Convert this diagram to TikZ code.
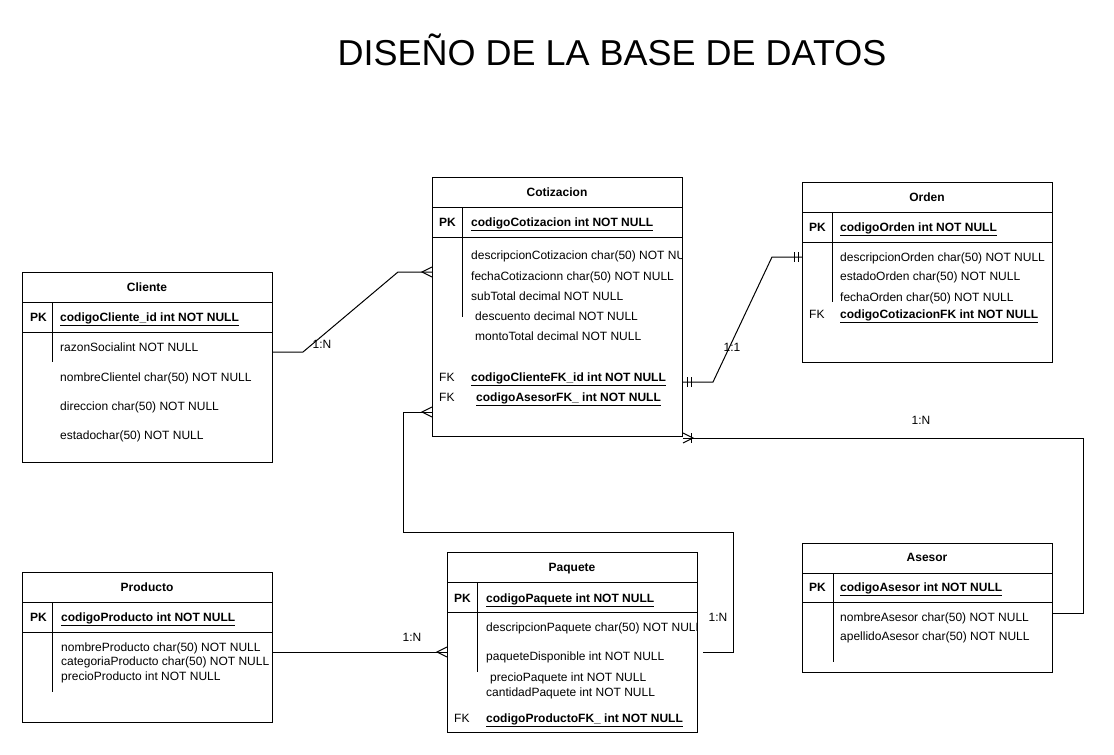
\documentclass[tikz,border=0pt]{standalone}
\usepackage{fontspec}
\setmainfont{Liberation Sans}
\usetikzlibrary{calc}
\newcommand{\fsz}{\fontsize{12pt}{14pt}\selectfont}
\newcommand{\ky}[1]{\underline{\textbf{codigo#1}}}
\begin{document}
\begin{tikzpicture}[x=1pt,y=-1pt,
  tbl/.style={draw, line width=1pt, anchor=north west, inner sep=0pt, minimum width=250pt},
  fld/.style={anchor=mid west, inner sep=0pt, yshift=-1pt, font=\fsz},
  ttl/.style={anchor=mid, inner sep=0pt, yshift=-1pt, font=\fsz\bfseries},
  lbl/.style={anchor=mid, inner sep=0pt, yshift=-1pt, font=\fsz},
  sep/.style={line width=1pt},
  conn/.style={line width=1pt},
  crow/.pic={\draw[line width=1pt] (0,-5) -- (-10,0) -- (0,5);},
  onebar/.pic={\draw[line width=1pt] (-4,-5) -- (-4,5) (-8,-5) -- (-8,5);}
]
\useasboundingbox[fill=white] (0,0) rectangle (1114,755);

\node[anchor=base, inner sep=0pt, font=\fontsize{36pt}{40pt}\selectfont] (title) at (612,65) {DISEÑO DE LA BASE DE DATOS};

% ---------- Cliente
\node[tbl, minimum height=190pt] (cli) at (22,272) {};
\draw[sep] (22,302) -- (272,302) (22,332) -- (272,332) (52,302) -- (52,362);
\node[ttl] (cli-t) at (147,288) {Cliente};
\node[fld, font=\fsz\bfseries] (cli-pk) at (30,318) {PK};
\node[fld] (cli-1) at (60,318) {\ky{Cliente\_id int NOT NULL}};
\node[fld] (cli-2) at (60,348) {razonSocialint NOT NULL};
\node[fld] (cli-3) at (60,378) {nombreClientel char(50) NOT NULL};
\node[fld] (cli-4) at (60,407) {direccion char(50) NOT NULL};
\node[fld] (cli-5) at (60,436) {estadochar(50) NOT NULL};

% ---------- Cotizacion
\node[tbl, minimum height=259pt] (cot) at (432,177) {};
\draw[sep] (432,207) -- (682,207) (432,237) -- (682,237) (462,207) -- (462,317);
\node[ttl] (cot-t) at (557,193) {Cotizacion};
\node[fld, font=\fsz\bfseries] (cot-pk) at (439,223) {PK};
\node[fld] (cot-1) at (471,223) {\ky{Cotizacion int NOT NULL}};
\begin{scope}
\clip (432,177) rectangle (682,436);
\node[fld] (cot-2) at (471,256) {descripcionCotizacion char(50) NOT NULL};
\end{scope}
\node[fld] (cot-3) at (471,277) {fechaCotizacionn char(50) NOT NULL};
\node[fld] (cot-4) at (471,297) {subTotal decimal NOT NULL};
\node[fld] (cot-5) at (475,317) {descuento decimal NOT NULL};
\node[fld] (cot-6) at (475,337) {montoTotal decimal NOT NULL};
\node[fld] (cot-fk1) at (439,378) {FK};
\node[fld] (cot-7) at (471,378) {\ky{ClienteFK\_id int NOT NULL}};
\node[fld] (cot-fk2) at (439,398) {FK};
\node[fld] (cot-8) at (476,398) {\ky{AsesorFK\_ int NOT NULL}};

% ---------- Orden
\node[tbl, minimum height=180pt] (ord) at (802,182) {};
\draw[sep] (802,212) -- (1052,212) (802,242) -- (1052,242) (832,212) -- (832,302);
\node[ttl] (ord-t) at (927,198) {Orden};
\node[fld, font=\fsz\bfseries] (ord-pk) at (809,228) {PK};
\node[fld] (ord-1) at (840,228) {\ky{Orden int NOT NULL}};
\node[fld] (ord-2) at (840,258) {descripcionOrden char(50) NOT NULL};
\node[fld] (ord-3) at (840,277) {estadoOrden char(50) NOT NULL};
\node[fld] (ord-4) at (840,298) {fechaOrden char(50) NOT NULL};
\node[fld] (ord-fk) at (809,315) {FK};
\node[fld] (ord-5) at (840,315) {\ky{CotizacionFK int NOT NULL}};

% ---------- Asesor
\node[tbl, minimum height=129pt] (ase) at (802,543) {};
\draw[sep] (802,573) -- (1052,573) (802,602) -- (1052,602) (833,573) -- (833,662);
\node[ttl] (ase-t) at (927,558) {Asesor};
\node[fld, font=\fsz\bfseries] (ase-pk) at (809,588) {PK};
\node[fld] (ase-1) at (840,588) {\ky{Asesor int NOT NULL}};
\node[fld] (ase-2) at (840,618) {nombreAsesor char(50) NOT NULL};
\node[fld] (ase-3) at (840,637) {apellidoAsesor char(50) NOT NULL};

% ---------- Paquete
\node[tbl, minimum height=180pt] (paq) at (447,552) {};
\draw[sep] (447,582) -- (697,582) (447,612) -- (697,612) (477,582) -- (477,672);
\node[ttl] (paq-t) at (572,568) {Paquete};
\node[fld, font=\fsz\bfseries] (paq-pk) at (454,599) {PK};
\node[fld] (paq-1) at (486,599) {\ky{Paquete int NOT NULL}};
\begin{scope}
\clip (447,552) rectangle (697,732);
\node[fld] (paq-2) at (486,628) {descripcionPaquete char(50) NOT NULL};
\end{scope}
\node[fld] (paq-3) at (486,657) {paqueteDisponible int NOT NULL};
\node[fld] (paq-4) at (490,678) {precioPaquete int NOT NULL};
\node[fld] (paq-5) at (486,693) {cantidadPaquete int NOT NULL};
\node[fld] (paq-fk) at (454,719) {FK};
\node[fld] (paq-6) at (486,719) {\ky{ProductoFK\_ int NOT NULL}};

% ---------- Producto
\node[tbl, minimum height=150pt] (pro) at (22,572) {};
\draw[sep] (22,602) -- (272,602) (22,632) -- (272,632) (52,602) -- (52,692);
\node[ttl] (pro-t) at (147,588) {Producto};
\node[fld, font=\fsz\bfseries] (pro-pk) at (30,618) {PK};
\node[fld] (pro-1) at (61,618) {\ky{Producto int NOT NULL}};
\node[fld] (pro-2) at (61,648) {nombreProducto char(50) NOT NULL};
\node[fld] (pro-3) at (61,662) {categoriaProducto char(50) NOT NULL};
\node[fld] (pro-4) at (61,677) {precioProducto int NOT NULL};

% ---------- connectors
\coordinate (cliA) at ([yshift=-80pt]cli.north east);
\coordinate (cotA) at ([yshift=-95pt]cot.north west);
\draw[conn] (cliA) -- ++(30,0) -- ([xshift=-34pt]cotA) -- (cotA);
\pic at (cotA) {crow};
\node[lbl] (l1) at (322,345) {1:N};

\coordinate (cotB) at ([yshift=-205pt]cot.north east);
\coordinate (ordA) at ([yshift=-75pt]ord.north west);
\draw[conn] (cotB) -- ++(30,0) -- ([xshift=-30pt]ordA) -- (ordA);
\pic[rotate=180] at (cotB) {onebar};
\pic at (ordA) {onebar};
\node[lbl] (l2) at (732,348) {1:1};

\coordinate (aseA) at ([yshift=-70pt]ase.north east);
\coordinate (cotC) at ([yshift=-1pt]cot.south east);
\draw[conn] (aseA) -- ++(30,0) |- (cotC);
\pic[rotate=180] at (cotC) {crow};
\draw[conn] ([xshift=8pt,yshift=5pt]cotC) -- ([xshift=8pt,yshift=-5pt]cotC);
\node[lbl] (l3) at (921,421) {1:N};

\coordinate (paqA) at ([xshift=5pt,yshift=-100pt]paq.north east);
\coordinate (cotD) at ([yshift=-235pt]cot.north west);
\draw[conn] (paqA) -- ++(30,0) -- ++(0,-120) -- ++(-330,0) |- (cotD);
\pic at (cotD) {crow};
\node[lbl] (l4) at (718,618) {1:N};

\coordinate (proA) at ([yshift=-80pt]pro.north east);
\coordinate (paqB) at ([yshift=-100pt]paq.north west);
\draw[conn] (proA) -- (paqB);
\pic at (paqB) {crow};
\node[lbl] (l5) at (412,638) {1:N};
\end{tikzpicture}
\end{document}
